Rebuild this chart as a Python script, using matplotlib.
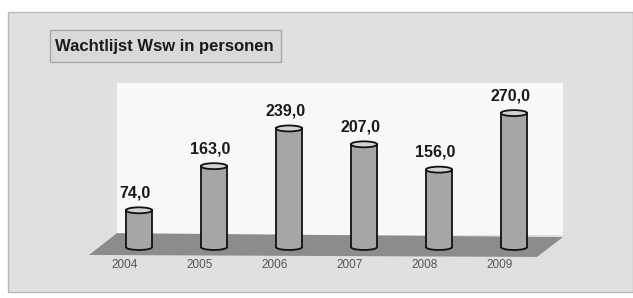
import matplotlib
matplotlib.use('Agg')
import matplotlib.pyplot as plt
from matplotlib.patches import Rectangle, Polygon, Ellipse, Arc

years = ['2004', '2005', '2006', '2007', '2008', '2009']
values = [74.0, 163.0, 239.0, 207.0, 156.0, 270.0]
title = 'Wachtlijst Wsw in personen'

W, H = 633, 298
fig = plt.figure(figsize=(W / 100, H / 100), dpi=100)
fig.patch.set_facecolor('white')

def fx(px):
    return px / W

def fy(py):
    return 1 - py / H

# outer grey frame
fig.patches.append(Rectangle((fx(8), fy(292)), fx(633 - 8), (292 - 12) / H,
                             transform=fig.transFigure, facecolor='#e0e0e0',
                             edgecolor='#b8b8b8', lw=1.0, zorder=-2))

# title box
fig.patches.append(Rectangle((fx(50), fy(62)), fx(231), 32 / H,
                             transform=fig.transFigure, facecolor='#d9d9d9',
                             edgecolor='#a8a8a8', lw=1.0, zorder=-1))
fig.text(fx(55), fy(46), title, family='Liberation Sans', weight='bold',
         fontsize=12, color='#1a1a1a', va='center', ha='left')

# axes: data y -> pixel mapping (0 at y=247, 270 at y=113)
ax = fig.add_axes([fx(80), fy(280), fx(520), 205 / H])
ax.set_xlim(-0.787, 6.147)
ax.set_ylim(-66.5, 346.8)
ax.axis('off')

# back wall
ax.add_patch(Rectangle((-0.293, 24), 5.653 + 0.293, 306, facecolor='#f8f8f8',
                       edgecolor='none', zorder=1))
# floor
ax.add_patch(Polygon([(-0.667, -16), (5.307, -20), (5.653, 20), (-0.293, 28)],
                     closed=True, facecolor='#8c8c8c', edgecolor='none', zorder=2))

w = 0.35
eh = 12
x = list(range(len(values)))
ax.bar(x, values, width=w, color='#a6a6a6', edgecolor='none', zorder=3)
for i, v in zip(x, values):
    ax.add_patch(Ellipse((i, 0), w, eh, facecolor='#a6a6a6', edgecolor='none', zorder=3))
    ax.add_patch(Arc((i, 0), w, eh, theta1=180, theta2=360, color='#111111', lw=1.3, zorder=4))
    ax.plot([i - w / 2, i - w / 2], [0, v], color='#111111', lw=1.3, zorder=4)
    ax.plot([i + w / 2, i + w / 2], [0, v], color='#111111', lw=1.3, zorder=4)
    ax.add_patch(Ellipse((i, v), w, eh, facecolor='#d2d2d2', edgecolor='#111111',
                         lw=1.3, zorder=5))
    ax.text(i - 0.05, v + 26, f'{v:.1f}'.replace('.', ','), family='Liberation Sans',
            weight='bold', fontsize=11.5, color='#1a1a1a', ha='center', va='baseline', zorder=6)
    ax.text(i - 0.19, -36, years[i], family='Liberation Sans', fontsize=8.5,
            color='#555555', ha='center', va='center', zorder=6)

fig.savefig('out.png', dpi=100)
